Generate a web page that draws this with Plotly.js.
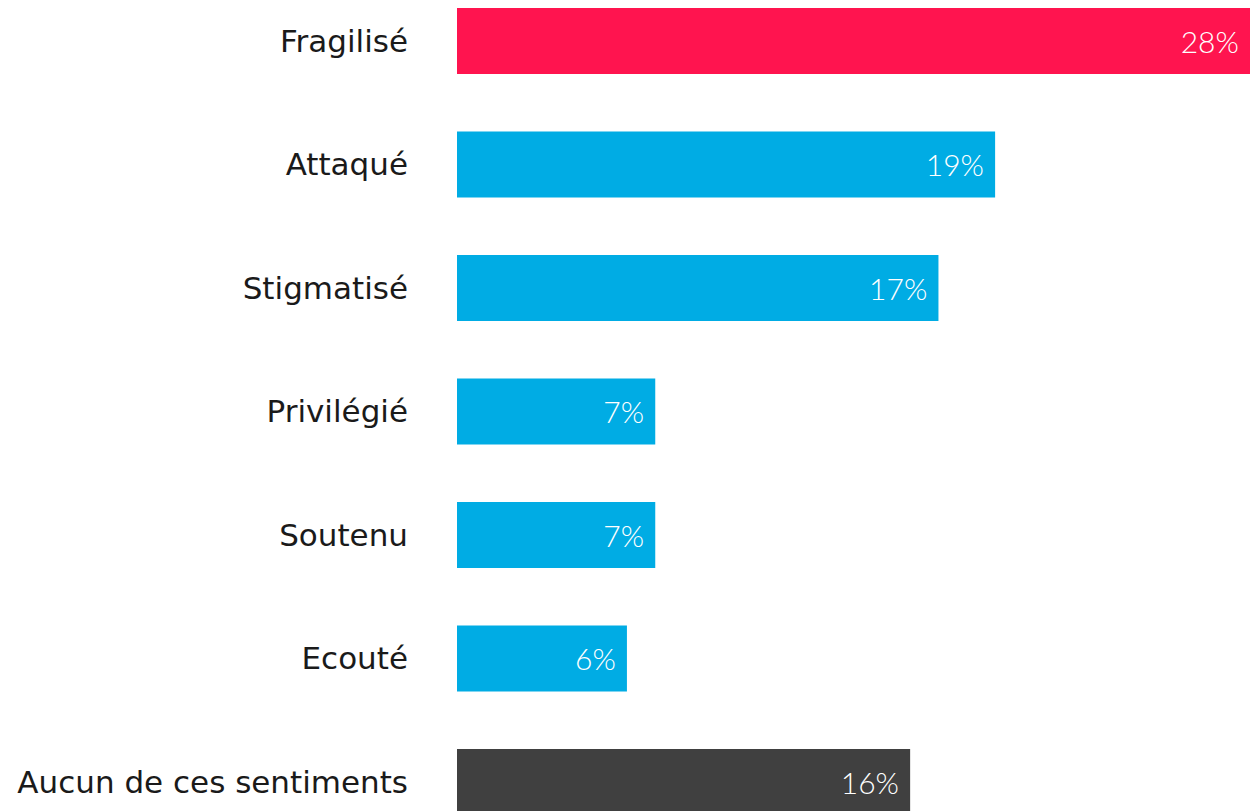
<!DOCTYPE html>
<html><head><meta charset="utf-8">
<script src="https://cdn.plot.ly/plotly-3.0.1.min.js"></script>
<style>html,body{margin:0;padding:0;background:#fff}</style>
</head><body>
<div id="chart" style="width:1250px;height:811px"></div>
<script>
const categories = ["Fragilisé","Attaqué","Stigmatisé","Privilégié","Soutenu","Ecouté","Aucun de ces sentiments"];
const values = [28,19,17,7,7,6,16];
const colors = ["#FF144F","#00ACE4","#00ACE4","#00ACE4","#00ACE4","#00ACE4","#404040"];
const LABELFONT = "'DejaVu Sans', sans-serif";
const VALFONT = "Lato, sans-serif";
Plotly.newPlot('chart',[{
  type:'bar', orientation:'h',
  y:categories, x:values,
  marker:{color:colors},
  width:0.534,
  text:values.map(v=>v+'%\u00a0'),
  textposition:'inside', insidetextanchor:'end',
  textfont:{family:VALFONT,size:30,color:'#ffffff',weight:300},
  hoverinfo:'none', cliponaxis:true
}],{
  width:1250,height:811,
  margin:{l:457,r:0,t:0,b:0,pad:0},
  paper_bgcolor:'#fff',plot_bgcolor:'#fff',
  showlegend:false,
  xaxis:{range:[0,28.0],visible:false,fixedrange:true},
  yaxis:{type:'category',range:[6.235,-0.332],showgrid:false,zeroline:false,showline:false,ticks:'',
    ticklabelstandoff:48,
    tickfont:{family:LABELFONT,size:31,color:'#1a1a1a'}},
  uniformtext:{mode:false}
},{displayModeBar:false,staticPlot:true});
</script>
</body></html>
